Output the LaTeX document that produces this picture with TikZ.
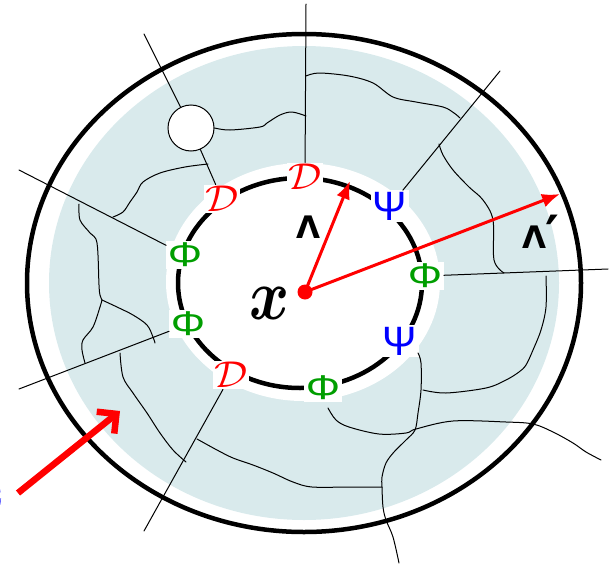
\documentclass[tikz,border=0pt]{standalone}
\usepackage{amsmath}
\usepackage{fontspec}
\newfontfamily\lamfont{DejaVu Sans}
\newfontfamily\grfont{Liberation Sans}
\usetikzlibrary{arrows.meta}
\definecolor{fillblue}{RGB}{217,234,236}
\definecolor{phigreen}{RGB}{0,158,0}
\definecolor{psiblue}{RGB}{0,0,255}
\newcommand{\calsym}[1]{\scalebox{1.67}[1.5]{\Huge$#1$}}
\begin{document}
\begin{tikzpicture}[x=1pt,y=-1pt,
  lab/.style={fill=white, inner sep=1.5pt},
  philab/.style={lab, text=phigreen, font=\grfont\fontsize{43}{43}\selectfont},
  psilab/.style={lab, text=psiblue, font=\grfont\fontsize{41}{41}\selectfont},
  wline/.style={line width=1pt, black, line cap=round, line join=round},
  lam/.style={font=\lamfont\bfseries\fontsize{31}{31}\selectfont},
  redarrow/.style={red, line width=3pt, -{Latex[length=18pt,width=14pt]}}]
\useasboundingbox (0,0) rectangle (616,565);
% annulus
\fill[fillblue] (304,283) ellipse [x radius=255pt, y radius=237pt];
\fill[white] (303,282) ellipse [x radius=137pt, y radius=119pt];
\draw[line width=4.5pt] (304,283) ellipse [x radius=277pt, y radius=249pt];
\draw[line width=4.5pt] (300,283) ellipse [x radius=122pt, y radius=105pt];

% labels
\node[lab, text=red] (Dt) at (305,177) {\calsym{\mathcal{D}}};
\node[lab, text=red] (Dul) at (222,199) {\calsym{\mathcal{D}}};
\node[lab, text=red] (Dll) at (231,375) {\calsym{\mathcal{D}}};
\node[philab] (Pl1) at (185,255) {\scalebox{1}[0.8]{Φ}};
\node[philab] (Pl2) at (188,324) {\scalebox{1}[0.8]{Φ}};
\node[philab] (Pr) at (425,276) {\scalebox{1}[0.8]{Φ}};
\node[philab] (Pb) at (323,388) {\scalebox{1}[0.8]{Φ}};
\node[psilab] (Su) at (390,206) {Ψ};
\node[psilab] (Sl) at (400,341) {Ψ};

\node[circle, draw, fill=white, line width=1pt, minimum size=46pt, inner sep=0] (circ) at (191,128) {};

% radial lines
\coordinate (t1) at (306,4);
\coordinate (t2) at (144,34);
\coordinate (t3) at (19,170);
\coordinate (t4) at (19,389);
\coordinate (t5) at (144,531);
\coordinate (t6) at (500,71);
\coordinate (t7) at (608,269);
\draw[wline] (t1) -- (Dt);
\draw[wline] (t2) -- (circ);
\draw[wline] (circ) -- (Dul);
\draw[wline] (t3) -- (Pl1);
\draw[wline] (t4) -- (Pl2);
\draw[wline] (t5) -- (Dll);
\draw[wline] (t6) -- (Su);
\draw[wline] (Pr) -- (t7);

% wiggly lines
\draw[wline] plot[smooth, tension=0.55] coordinates {(circ.east) (230,130) (260,127) (267,123) (280,115) (292,112) (306,116)};
\draw[wline] plot[smooth, tension=0.55] coordinates {(208,164) (185,167) (160,173) (143,182) (137,192) (130,202) (123,212) (113,217)};
\draw[wline] plot[smooth, tension=0.55] coordinates {(79,204) (80,220) (90,233) (97,243) (99,285) (100,295) (102,300)};
\draw[wline] plot[smooth, tension=0.55] coordinates {(102,300) (100,307) (93,327) (83,340) (82,350) (85,363)};
\draw[wline] plot[smooth, tension=0.55] coordinates {(102,300) (117,307) (133,315) (147,325) (153,337) (155,343)};
\draw[wline] plot[smooth, tension=0.55] coordinates {(120,353) (123,377) (133,393) (147,413) (160,433) (173,450) (186,462)};
\draw[wline] plot[smooth, tension=0.55] coordinates {(197,439) (217,450) (233,458) (253,465) (273,473) (293,482) (312,487) (350,487) (382,487)};
\draw[wline] plot[smooth, tension=0.55] coordinates {(418,353) (421,363) (421,390) (418,413) (415,430) (406,440) (394,452) (386,463) (382,477) (382,487) (383,507) (386,520) (393,537) (399,563)};
\draw[wline] plot[smooth, tension=0.55] coordinates {(328,408) (336,420) (349,427) (379,434) (406,433) (416,429) (453,421) (506,422) (533,424) (553,432) (573,443) (586,452) (601,460)};
\draw[wline] plot[smooth, tension=0.55] coordinates {(546,276) (546,307) (541,330) (533,350) (526,365) (519,372) (506,380) (486,388) (446,393) (423,390)};
\draw[wline] plot[smooth, tension=0.55] coordinates {(306,76) (319,73) (349,76) (373,83) (393,97) (416,102) (443,107) (454,113) (460,118)};
\draw[wline] plot[smooth, tension=0.55] coordinates {(439,144) (443,155) (453,170) (469,187) (483,200) (493,220) (494,260) (504,273)};

% Lambda labels and x
\node[lam] (lam) at (308,227) {Λ};
\node[lam] (lamp) at (541,234) {Λ\kern-1pt\raisebox{-5pt}{\scalebox{1.7}{′}}};
\node (xl) at (270,303) {\scalebox{2.45}[2.9]{\Huge$\boldsymbol{x}$}};

% red arrows
\node[circle, fill=red, minimum size=15pt, inner sep=0] (dot) at (305,292) {};
\coordinate (lamtip) at (350,181);
\coordinate (lamptip) at (560,194);
\draw[redarrow] (dot.center) -- (lamtip);
\draw[redarrow] (dot.center) -- (lamptip);
\coordinate (ka) at (18,493);
\coordinate (kb) at (120,411);
\draw[red, line width=6.5pt, -{Straight Barb[length=14pt,width=28pt]}] (ka) -- (kb);
\node[anchor=east, text=psiblue, inner sep=0] (el) at (2,496) {\scalebox{1.1}{\Huge E}};
\end{tikzpicture}
\end{document}
